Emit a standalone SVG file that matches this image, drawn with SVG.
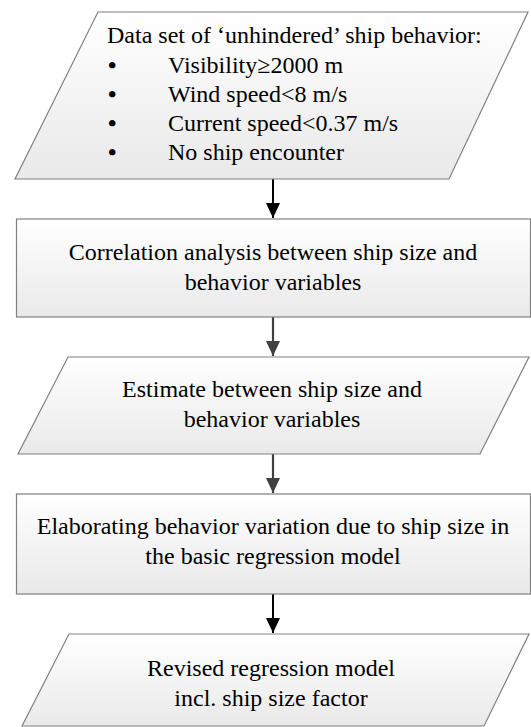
<svg xmlns="http://www.w3.org/2000/svg" width="531" height="727" viewBox="0 0 531 727">
<style>
.shape{stroke:#808080;stroke-width:1.2;fill:url(#g)}
text{font-family:"Liberation Serif","Times New Roman",serif;font-size:24px;fill:#000}
.c{text-anchor:middle}
.b{font-weight:bold}
.k{stroke:#000;stroke-width:2;fill:none}
.d{stroke:#404040;stroke-width:2.2;fill:none}
</style>
<defs>
<linearGradient id="g" x1="0" y1="0" x2="0" y2="1">
<stop offset="0" stop-color="#ffffff"/>
<stop offset="1" stop-color="#e9e9e9"/>
</linearGradient>
<marker id="ak" markerUnits="userSpaceOnUse" markerWidth="16" markerHeight="16" refX="15" refY="7" orient="auto">
<path d="M0,0 L15,7 L0,14 Z" fill="#000"/>
</marker>
<marker id="ad" markerUnits="userSpaceOnUse" markerWidth="16" markerHeight="16" refX="15" refY="7" orient="auto">
<path d="M0,0 L15,7 L0,14 Z" fill="#404040"/>
</marker>
</defs>
<g id="connectors">
<line class="k" x1="273" y1="179" x2="273" y2="218" marker-end="url(#ak)"/>
<line class="d" x1="273" y1="317" x2="273" y2="356" marker-end="url(#ad)"/>
<line class="d" x1="273" y1="454" x2="273" y2="493" marker-end="url(#ad)"/>
<line class="k" x1="273" y1="594" x2="273" y2="633" marker-end="url(#ak)"/>
</g>
<g id="n1">
<polygon class="shape" points="98,12 528,12 449,179 15,179"/>
<text x="107" y="43">Data set of ‘unhindered’ ship behavior:</text>
<text class="b" x="108" y="73">•</text><text x="168" y="73">Visibility≥2000 m</text>
<text class="b" x="108" y="102">•</text><text x="168" y="102">Wind speed&lt;8 m/s</text>
<text class="b" x="108" y="131">•</text><text x="168" y="131">Current speed&lt;0.37 m/s</text>
<text class="b" x="108" y="160">•</text><text x="168" y="160">No ship encounter</text>
</g>
<g id="n2">
<rect class="shape" x="16.5" y="219" width="514" height="98"/>
<text class="c" x="273" y="260">Correlation analysis between ship size and</text>
<text class="c" x="273" y="290">behavior variables</text>
</g>
<g id="n3">
<polygon class="shape" points="68,357 529,357 480,454 18,454"/>
<text class="c" x="272" y="397">Estimate between ship size and</text>
<text class="c" x="272" y="427">behavior variables</text>
</g>
<g id="n4">
<rect class="shape" x="16.5" y="494" width="514" height="100"/>
<text class="c" x="273" y="534">Elaborating behavior variation due to ship size in</text>
<text class="c" x="273" y="564">the basic regression model</text>
</g>
<g id="n5">
<polygon class="shape" points="69,634 529,634 484,726 22,726"/>
<text class="c" x="271" y="676">Revised regression model</text>
<text class="c" x="271" y="706">incl. ship size factor</text>
</g>
</svg>
